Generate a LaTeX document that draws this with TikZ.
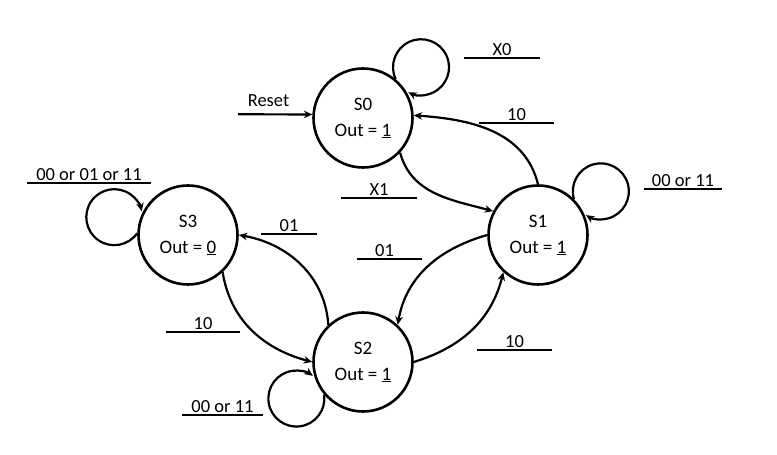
\documentclass[tikz,border=0pt]{standalone}
\usepackage{fontspec}
\setmainfont{Carlito}
\usetikzlibrary{arrows.meta}
\begin{document}
\begin{tikzpicture}[x=1pt,y=1pt,
  state/.style={circle, draw, line width=2.6pt, minimum size=99pt, inner sep=0pt, align=center, font=\fontsize{19}{26}\selectfont},
  arr/.style={line width=2.2pt, -{Stealth[length=8.5pt,width=7.5pt]}},
  lab/.style={anchor=south, inner xsep=0pt, inner ysep=2pt, text depth=0pt, font=\fontsize{18.5}{22}\selectfont},
  uline/.style={line width=1.7pt}]
\useasboundingbox (0,0) rectangle (777,455);

% states
\node[state] (S0) at (363,337) {S0\\Out = \underline{1}};
\node[state] (S1) at (538,220) {S1\\Out = \underline{1}};
\node[state] (S2) at (363,93) {S2\\Out = \underline{1}};
\node[state] (S3) at (188,220) {S3\\Out = \underline{0}};

% reset
\coordinate (rst) at (238,340.7);
\node[font=\fontsize{18.5}{22}\selectfont, inner sep=0pt] (lreset) at (268.5,354.3) {Reset};
\draw[arr] (rst) -- (S0.176);

% transitions
\draw[arr] (S0.-43) to[out=-75, in=165] (S1.152);
\draw[arr] (S1.90) to[out=104, in=-4] (S0.3);
\draw[arr] (S1.180) to[out=-164, in=80] (S2.47);
\draw[arr] (S2.0) to[out=17, in=-104] (S1.-133);
\draw[arr] (S2.133) to[out=94, in=-10] (S3.0);
\draw[arr] (S3.-47) to[out=-81, in=165] (S2.180);

% self loops
\draw[arr] (S0.50) arc[start angle=205, end angle=-117, radius=28];
\draw[arr] (S1.45) arc[start angle=196, end angle=-122, radius=28];
\draw[arr] (S2.220) arc[start angle=8, end angle=-306, radius=28];
\draw[arr] (S3.178) arc[start angle=-35, end angle=-348, radius=28];

% labels
\node[lab, minimum width=76pt] (lX0) at (502,397) {X0};
\node[lab, minimum width=75pt] (l10a) at (516.5,332) {10};
\node[lab, minimum width=76pt] (lX1) at (379,257) {X1};
\node[lab, minimum width=78pt] (l0011a) at (683,266) {00 or 11};
\node[lab, minimum width=65pt] (l01a) at (389.5,196) {01\hspace*{10pt}};
\node[lab, minimum width=56pt] (l01b) at (289,221) {01};
\node[lab, minimum width=74pt] (l10b) at (203,123) {10};
\node[lab, minimum width=124pt] (l000111) at (89,272) {00 or 01 or 11};
\node[lab, minimum width=75pt] (l10c) at (514.5,105) {10};
\node[lab, minimum width=81pt] (l0011b) at (222.5,40) {00 or 11};

\foreach \n in {lX0,l10a,lX1,l0011a,l01a,l01b,l10b,l000111,l10c,l0011b}
  \draw[uline] (\n.south west) -- (\n.south east);
\end{tikzpicture}
\end{document}
